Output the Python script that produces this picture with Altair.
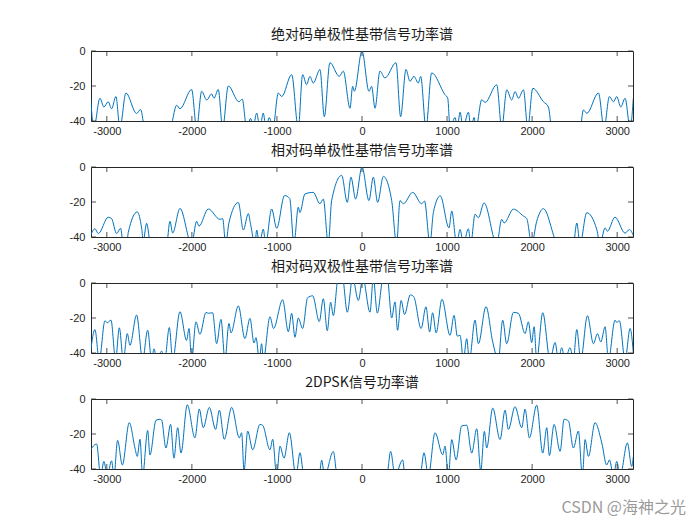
import altair as alt
import pandas as pd

titles = ["绝对码单极性基带信号功率谱", "相对码单极性基带信号功率谱",
          "相对码双极性基带信号功率谱", "2DPSK信号功率谱"]
x_ticks = [-3000, -2000, -1000, 0, 1000, 2000, 3000]
y_ticks = [0, -20, -40]

f1 = [-3190, -3152, -3081, -3034, -2984, -2944, -2893, -2846, -2775, -2650, -2603, -2552,
      -2258, -2179, -2140, -2003, -1944, -1885, -1826, -1768, -1740, -1690, -1638, -1572, -1447, -1408, -1356,
      -1309, -1282, -1238, -1200, -1161, -1129, -1090, -1047,
      -984, -944, -827, -749, -698, -651, -612, -573, -494, -443, -377, -267, -220, -141, -110, -90, 0,
      82, 113, 153, 211, 270, 400, 454, 517, 564, 611, 662, 690, 752, 819, 976, 1008, 1035,
      1094, 1120, 1153, 1188, 1251, 1280, 1318, 1340,
      1408, 1447, 1584, 1643, 1702, 1760, 1800, 1839, 1898, 1949, 2008, 2133, 2192, 2231,
      2564, 2603, 2643, 2780, 2846, 2909, 2956, 2995, 3042, 3093, 3152, 3190]
d1 = [-27, -44, -27, -32, -29, -33, -26, -44, -24, -35.7, -33.4, -44,
      -44, -31, -33, -22, -44, -23, -28, -24.5, -27, -22, -44, -20, -29, -27.5, -44,
      -38.5, -44, -35.5, -44, -35.5, -44, -38, -44,
      -24, -26, -13.5, -44, -13.5, -19.2, -14.5, -18.3, -10.6, -37.5, -6.7, -14.5, -11.5, -32.7, -20.2, -23, 0,
      -23, -20.2, -32.7, -11.5, -15.4, -6.7, -37.5, -10.6, -17.3, -14.5, -18.3, -14.5, -44, -12.5, -25, -27, -44,
      -38, -44, -35, -44, -35, -44, -38, -44,
      -27.8, -29.4, -19.3, -44, -22.2, -28, -23.2, -27, -22.2, -44, -21.3, -29, -32, -44,
      -44, -33.7, -35.6, -24, -44, -26, -29, -26, -32, -27, -44, -27]

f2 = [-3190, -3140, -3100, -2983, -2944, -2885, -2838, -2806,
      -2767, -2748, -2642, -2591, -2571, -2532, -2485,
      -2297, -2258, -2226, -2140, -2003, -1944, -1917, -1807, -1670, -1638, -1603,
      -1564, -1454, -1395, -1336, -1309, -1258, -1238, -1207, -1160, -1133,
      -1062, -1003, -910, -850, -800, -749, -730, -671, -573, -494, -455, -396,
      -357, -239, -173, -130, -75, 0,
      82, 133, 184, 251, 349, 407, 447, 486, 596, 701, 735, 799, 839, 920, 1023, 1055, 1113,
      1153, 1192, 1251, 1278, 1329, 1368, 1435, 1584, 1643, 1670, 1780, 1897, 1937, 1995,
      2054, 2133, 2309, 2485, 2525, 2564, 2642, 2760, 2799, 2858, 2885, 2975, 3093, 3144, 3190]
d2 = [-39, -35.3, -38, -28.7, -29.5, -38, -35, -44,
      -44, -37.5, -25.7, -34.8, -42, -32.2, -44,
      -44, -31, -37.7, -23.7, -44, -31, -33.8, -24, -29.9, -29.5, -44,
      -31.8, -20.3, -36, -26.6, -33, -44, -36, -44, -35.5, -44,
      -24, -35, -16.3, -18, -44, -23, -26, -15.4, -14.5, -21, -18.3, -44,
      -19.2, -4.8, -20.2, -5.8, -18.3, 0,
      -19.2, -5.8, -20.2, -5.4, -19.2, -44, -19.2, -21, -14.5, -21, -19.5, -44, -26, -16.5, -34.8, -25.1, -44,
      -35.7, -44, -35.3, -44, -27, -29, -20.5, -44, -29.9, -32, -24.1, -28, -29.5, -44,
      -31, -23.8, -44, -44, -32, -44, -26.1, -35.7, -44, -34.8, -36.7, -28.7, -37.8, -35.7, -39.2]

f3 = [-3190, -3140, -3089, -3022, -2995, -2951, -2897, -2853, -2806, -2759, -2728, -2650,
      -2579, -2520, -2473, -2446, -2410, -2356, -2320, -2265, -2226, -2140, -2062, -2034, -2003,
      -1952, -1905, -1834, -1807, -1756, -1709, -1658, -1611, -1564, -1540, -1454, -1376, -1317,
      -1270, -1246, -1207, -1180, -1160, -1082, -1040, -933, -866, -827, -788, -749, -698, -640,
      -580, -502, -455, -408, -369, -337, -279, -230, -173, -110, -43, 10,
      94, 133, 180, 250, 300, 349, 388, 418, 460, 500, 568, 608, 695, 752, 795, 830, 872, 940,
      1035, 1082, 1121, 1153, 1192, 1231, 1262, 1329, 1368, 1458, 1537, 1603, 1654, 1701, 1780,
      1839, 1917, 1956, 1995, 2023, 2054, 2125, 2211, 2270, 2309, 2348, 2387, 2446, 2485, 2525,
      2572, 2650, 2721, 2768, 2807, 2858, 2897, 2975, 2995, 3026, 3093, 3152, 3190]
d3 = [-39, -26.6, -44, -21.6, -22.7, -21.2, -44, -25.6, -44, -28.9, -35.6, -18.3,
      -44, -27, -44, -37.6, -44, -38.9, -44, -25.4, -44, -16.4, -32.8, -26, -44,
      -22.2, -29.3, -16.8, -17.3, -17, -34.7, -20.8, -44, -23.1, -28.5, -13.1, -31.8, -20.2,
      -34.3, -31.2, -44, -34.7, -44, -19.3, -26, -9.6, -27.9, -17.3, -31, -20, -26, -8.5,
      -7.3, -22, -9, -27.3, -11, -18.6, 3, 3, -16.7, 3, -10, 3,
      -16.7, 3, -17.2, 3, 2, -20, -10.8, -27, -10, -18, -6.8, -7.8, -26, -13.6, -28, -17, -28.5, -9.3,
      -29.9, -18.5, -30.4, -29.9, -44, -31.8, -44, -21.2, -34.7, -13.5, -33.7, -44, -21.2, -34.7, -16.8,
      -17.3, -28.9, -22.2, -34, -25, -44, -17, -44, -34, -44, -37, -44, -37, -44, -26.6,
      -44, -18.7, -34.7, -29, -33.7, -25, -44, -21.2, -22.5, -21.6, -44, -26, -40]

f4 = [-3190, -3120, -3073, -3034, -2995, -2944, -2916, -2873, -2818, -2736, -2669, -2642,
      -2610, -2579, -2520, -2493, -2422, -2375, -2356, -2305, -2250, -2211, -2167, -2128,
      -2054, -1964, -1913, -1866, -1795, -1721, -1677, -1619, -1532, -1442, -1415, -1387,
      -1344, -1285, -1199, -1168, -1082, -1050, -1003, -964, -917, -854, -776, -729, -682,
      -505, -474, -440, -337, -290,
      290, 337, 388, 478, 506, 682, 729, 780, 859, 949, 976, 1015, 1055, 1106, 1172, 1231,
      1290, 1349, 1396, 1439, 1466, 1537, 1623, 1682, 1721, 1799, 1878, 1917, 1968, 2054,
      2125, 2172, 2203, 2258, 2329, 2376, 2427, 2485, 2544, 2591, 2623, 2662, 2740, 2819,
      2877, 2909, 2956, 2995, 3034, 3120, 3171, 3190]
d4 = [-29, -25.7, -44, -35.7, -44, -35.3, -44, -23.6, -37.7, -13.5, -28, -32.8,
      -23, -44, -18, -32, -12.2, -11.6, -12, -28, -14.5, -33.8, -16.4, -30.9,
      -3.3, -22.2, -5.8, -16.4, -4.8, -17.4, -6.4, -23, -4.8, -22.2, -19.3, -41,
      -18.3, -29, -14.5, -15, -29, -23, -44, -26.9, -33.8, -19.3, -44, -30.7, -44,
      -44, -35, -44, -30, -44,
      -44, -29.9, -44, -34.8, -44, -44, -30.7, -44, -19.3, -31.9, -26.9, -44, -23.2, -34.8, -15.4, -15,
      -30.9, -17, -41, -18.5, -28, -5.2, -23.2, -6.4, -17.4, -4.4, -16.4, -5.8, -22.2, -3.5,
      -30.9, -16.4, -32.3, -14.5, -29.9, -11.6, -12.5, -28, -18.3, -44, -23.2, -32.8, -13.5, -25.1,
      -37.7, -34.8, -44, -35.7, -44, -25.1, -38.6, -33]

W, H = 542, 70
XDOM = [-3186, 3186]
INK = "#262626"

xs = alt.Scale(domain=XDOM, nice=False, zero=False)
ys = alt.Scale(domain=[-40, 0], nice=False, zero=False)
xax = alt.Axis(values=x_ticks, ticks=False, domain=False, grid=False,
               labelFont="Liberation Sans", labelFontSize=11,
               labelColor=INK, labelPadding=4, labelExpr="'' + datum.value")
yax = alt.Axis(values=y_ticks, ticks=False, domain=False, grid=False,
               labelFont="Liberation Sans", labelFontSize=11,
               labelColor=INK, labelPadding=6, labelExpr="'' + datum.value")


def panel(title, f, d, watermark=False):
    df = pd.DataFrame({"f": f, "db": d})
    line = alt.Chart(df).mark_line(
        color="#0072BD", strokeWidth=1, interpolate="monotone", clip=True
    ).encode(
        x=alt.X("f:Q", scale=xs, title=None, axis=xax),
        y=alt.Y("db:Q", scale=ys, title=None, axis=yax),
    )
    xt = pd.DataFrame({"t": x_ticks})
    yt = pd.DataFrame({"t": y_ticks})
    tx_top = alt.Chart(xt).mark_rule(color=INK, strokeWidth=0.8).encode(
        x=alt.X("t:Q", scale=xs, title=None, axis=xax), y=alt.value(0), y2=alt.value(5))
    tx_bot = alt.Chart(xt).mark_rule(color=INK, strokeWidth=0.8).encode(
        x=alt.X("t:Q", scale=xs, title=None, axis=xax), y=alt.value(H - 5), y2=alt.value(H))
    ty_l = alt.Chart(yt).mark_rule(color=INK, strokeWidth=0.8).encode(
        y=alt.Y("t:Q", scale=ys, title=None, axis=yax), x=alt.value(0), x2=alt.value(5))
    ty_r = alt.Chart(yt).mark_rule(color=INK, strokeWidth=0.8).encode(
        y=alt.Y("t:Q", scale=ys, title=None, axis=yax), x=alt.value(W - 5), x2=alt.value(W))
    layers = [line, tx_top, tx_bot, ty_l, ty_r]
    if watermark:
        wm = alt.Chart(pd.DataFrame({"s": ["CSDN @海神之光"]})).mark_text(
            align="right", baseline="middle", font="Noto Sans CJK SC",
            fontSize=16, color="#9a9a9a", clip=False
        ).encode(text="s:N", x=alt.value(W + 53), y=alt.value(H + 39))
        layers.append(wm)
    return alt.layer(*layers).properties(
        width=W, height=H,
        title=alt.TitleParams(title, font="Noto Sans CJK SC", fontSize=14,
                              fontWeight="normal", color="#1a1a1a", offset=3,
                              anchor="middle"))


chart = alt.vconcat(
    panel(titles[0], f1, d1),
    panel(titles[1], f2, d2),
    panel(titles[2], f3, d3),
    panel(titles[3], f4, d4, watermark=True),
    spacing=6,
).properties(
    padding={"left": 60, "top": 19, "right": 5, "bottom": 5},
    background="white",
).configure_view(
    stroke=INK, strokeWidth=1
)

chart.save("out.html", embed_options={"renderer": "svg", "actions": False})
